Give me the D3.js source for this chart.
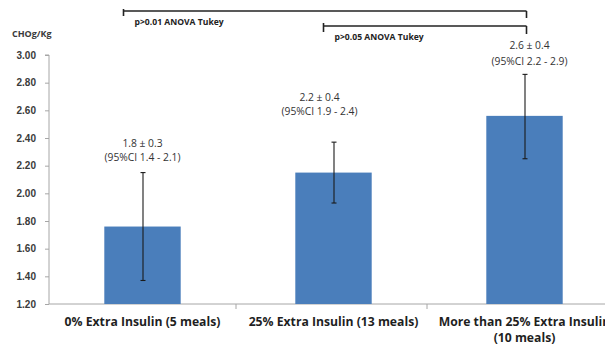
<!DOCTYPE html>
<html>
<head>
<meta charset="utf-8">
<script src="https://cdn.jsdelivr.net/npm/d3@7"></script>
<style>
  body { margin: 0; background: #fff; }
  svg { display: block; font-family: "Open Sans", sans-serif; }
</style>
</head>
<body>
<svg id="chart" width="605" height="345"></svg>
<script>
//Chart values
var categories = ["0% Extra Insulin (5 meals)", "25% Extra Insulin (13 meals)", "More than 25% Extra Insulin (10 meals)"];
var means = [1.76, 2.15, 2.56];
var errLow = [1.37, 1.93, 2.25];
var errHigh = [2.15, 2.37, 2.86];
var meanLabels = ["1.8 ± 0.3", "2.2 ± 0.4", "2.6 ± 0.4"];
var ciLabels = ["(95%CI 1.4 - 2.1)", "(95%CI 1.9 - 2.4)", "(95%CI 2.2 - 2.9)"];
var yTicks = [1.2, 1.4, 1.6, 1.8, 2.0, 2.2, 2.4, 2.6, 2.8, 3.0];
var yTitle = "CHOg/Kg";
var comparisons = [
  {from: 0, to: 2, text: "p>0.01 ANOVA Tukey"},
  {from: 1, to: 2, text: "p>0.05 ANOVA Tukey"}
];

var svg = d3.select("#chart");
var axisX = 49, plotTop = 55, plotBottom = 304;

//Scales
var x = d3.scaleBand()
    .domain(categories)
    .range([47, 620])
    .paddingInner(0.6)
    .paddingOuter(0.3);

var y = d3.scaleLinear()
    .domain([1.2, 3.0])
    .range([plotBottom, plotTop]);

function center(i) { return x(categories[i]) + x.bandwidth() / 2; }

//Y axis
var yAxis = d3.axisLeft(y)
    .tickValues(yTicks)
    .tickFormat(d3.format(".2f"))
    .tickSize(4)
    .tickPadding(9);

var gy = svg.append("g")
    .attr("transform", "translate(" + axisX + ",0)")
    .call(yAxis);
gy.select(".domain").attr("stroke", "#a6a6a6").attr("d", "M-4," + plotTop + "H0V" + plotBottom);
gy.selectAll(".tick line").attr("stroke", "#a6a6a6");
gy.selectAll(".tick text")
    .attr("fill", "#3a3a3a")
    .style("font-size", "10px")
    .style("font-weight", "bold");

svg.append("text")
    .attr("x", 12)
    .attr("y", 37)
    .attr("fill", "#3a3a3a")
    .style("font-size", "9px")
    .style("font-weight", "bold")
    .text(yTitle);

//X axis line with ticks between categories
svg.append("line")
    .attr("x1", axisX).attr("x2", 620)
    .attr("y1", plotBottom).attr("y2", plotBottom)
    .attr("stroke", "#a6a6a6");

var step = x.step();
categories.slice(0, -1).forEach(function(c) {
  var bx = x(c) + x.bandwidth() + step * x.paddingInner() / 2 - 2;
  svg.append("line")
      .attr("x1", bx).attr("x2", bx)
      .attr("y1", plotBottom).attr("y2", plotBottom + 5)
      .attr("stroke", "#a6a6a6");
});

//Category labels (long label wraps at "(", and runs off the right edge as in the original)
categories.forEach(function(c, i) {
  var t = svg.append("text")
      .attr("text-anchor", "middle")
      .attr("fill", "#1f1f1f")
      .style("font-size", "12.2px")
      .style("font-weight", "bold");
  var parts = i == 2 ? ["More than 25% Extra Insulin", "(10 meals)"] : [c];
  parts.forEach(function(p, k) {
    t.append("tspan")
        .attr("x", center(i))
        .attr("y", 326 + k * 16)
        .text(p);
  });
});

//Bars
svg.selectAll("rect.bar")
    .data(means)
  .enter().append("rect")
    .attr("class", "bar")
    .attr("x", function(d, i) { return x(categories[i]); })
    .attr("y", function(d) { return y(d); })
    .attr("width", x.bandwidth())
    .attr("height", function(d) { return plotBottom - y(d); })
    .attr("fill", "#4a7ebb");

//Error bars
var errG = svg.append("g").attr("stroke", "#1a1a1a").attr("stroke-width", 1.1);
means.forEach(function(d, i) {
  var cx = center(i) + 0.5;
  errG.append("line").attr("x1", cx).attr("x2", cx).attr("y1", y(errLow[i])).attr("y2", y(errHigh[i]));
  [errLow[i], errHigh[i]].forEach(function(v) {
    errG.append("line").attr("x1", cx - 2.5).attr("x2", cx + 2.5).attr("y1", y(v)).attr("y2", y(v));
  });
});

//Value labels above each error bar
var labelGap = [12, 27, 9];
var lineGap = [14, 14, 16];
var labelShift = [0, -14, 5];
means.forEach(function(d, i) {
  var ly = y(errHigh[i]) - labelGap[i];
  var g = svg.append("g")
      .attr("fill", "#333")
      .style("font-size", "10.3px")
      .attr("text-anchor", "middle");
  g.append("text").attr("x", center(i) + labelShift[i]).attr("y", ly - lineGap[i]).text(meanLabels[i]);
  g.append("text").attr("x", center(i) + labelShift[i]).attr("y", ly).text(ciLabels[i]);
});

//Comparison brackets at the top
var bracketY = [11, 26];
var leftOffset = [-19, -10];
var leftTick = [[9, 16], [23, 32]];
var rightDrop = [18, 34];
comparisons.forEach(function(c, k) {
  var x1 = center(c.from) + leftOffset[k], x2 = center(c.to) + 2;
  var g = svg.append("g").attr("stroke", "#222").attr("stroke-width", 1.6).attr("fill", "none");
  g.append("line").attr("x1", x1).attr("x2", x2).attr("y1", bracketY[k]).attr("y2", bracketY[k]);
  g.append("line").attr("x1", x1).attr("x2", x1).attr("y1", leftTick[k][0]).attr("y2", leftTick[k][1]);
  g.append("line").attr("x1", x2).attr("x2", x2).attr("y1", bracketY[k]).attr("y2", rightDrop[k]);
  svg.append("text")
      .attr("x", x1 + 11)
      .attr("y", bracketY[k] + 14)
      .attr("fill", "#222")
      .style("font-size", "8.6px")
      .style("font-weight", "bold")
      .text(c.text);
});
</script>
</body>
</html>
